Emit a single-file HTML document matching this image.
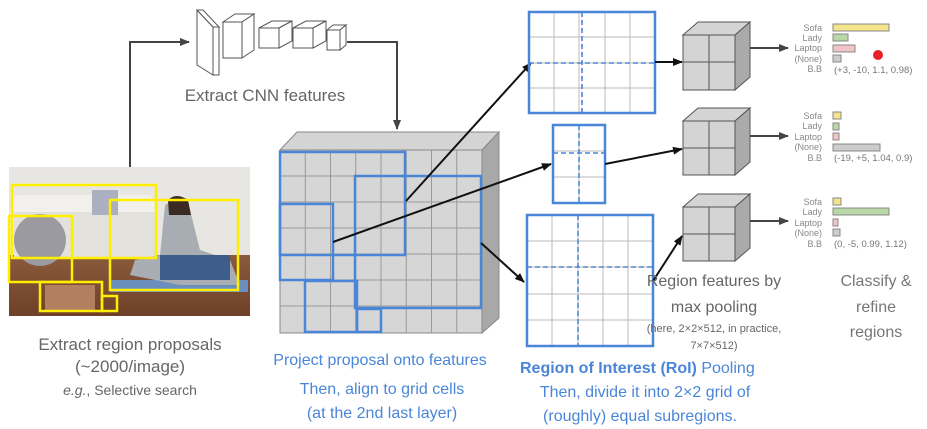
<!DOCTYPE html>
<html><head><meta charset="utf-8"><style>
html,body{margin:0;padding:0;background:#fff;}
svg{display:block;font-family:"Liberation Sans",sans-serif;}
</style></head><body>
<svg width="927" height="429" viewBox="0 0 927 429" xmlns="http://www.w3.org/2000/svg">
<defs>
<marker id="ah" markerWidth="10" markerHeight="8" refX="9" refY="4" orient="auto" markerUnits="userSpaceOnUse"><path d="M0,0 L10,4 L0,8 z" fill="#111"/></marker>
<marker id="ag" markerWidth="10" markerHeight="8" refX="9" refY="4" orient="auto" markerUnits="userSpaceOnUse"><path d="M0,0 L10,4 L0,8 z" fill="#444"/></marker>
<linearGradient id="floor" x1="0" y1="0" x2="0" y2="1"><stop offset="0" stop-color="#8a5a3c"/><stop offset="1" stop-color="#6e4128"/></linearGradient>
</defs>

<!-- connectors to CNN -->
<polyline points="130,167 130,42 189,42" fill="none" stroke="#444" stroke-width="2" marker-end="url(#ag)"/>
<polyline points="347,42 397,42 397,129" fill="none" stroke="#444" stroke-width="2" marker-end="url(#ag)"/>

<!-- CNN layers -->
<g fill="#fff" stroke="#555" stroke-width="1">
<polygon points="197,10 213,27 213,75 197,65"/>
<polygon points="197,10 203,10 219,27 213,27"/>
<rect x="213" y="27" width="6" height="48"/>
<polygon points="223,22 235,14 254,14 242,22"/><polygon points="242,22 254,14 254,50 242,58"/><rect x="223" y="22" width="19" height="36"/>
<polygon points="259,28 272,21 292,21 279,28"/><polygon points="279,28 292,21 292,41 279,48"/><rect x="259" y="28" width="20" height="20"/>
<polygon points="293,28 306,21 326,21 313,28"/><polygon points="313,28 326,21 326,41 313,48"/><rect x="293" y="28" width="20" height="20"/>
<polygon points="327,30 333,25 346,25 340,30"/><polygon points="340,30 346,25 346,45 340,50"/><rect x="327" y="30" width="13" height="20"/>
</g>
<text x="265" y="101" font-size="17" fill="#666" text-anchor="middle">Extract CNN features</text>

<!-- photo -->
<rect x="9" y="167" width="241" height="149" fill="#e8e6e2"/>
<rect x="9" y="255" width="241" height="61" fill="url(#floor)"/>
<rect x="12" y="195" width="143" height="60" rx="8" fill="#f1f0ec"/>
<rect x="14" y="212" width="141" height="45" fill="#e2e1dc"/>
<rect x="92" y="190" width="26" height="25" fill="#aab0c0"/>
<circle cx="40" cy="240" r="26" fill="#9a9aa0"/>
<rect x="110" y="280" width="138" height="12" fill="#6a8fbf"/>
<path d="M165,205 q15,-10 25,5 l10,40 l30,10 l10,25 l-60,0 l-50,-10 l5,-15 l25,-5 z" fill="#a8adb3"/>
<rect x="160" y="255" width="70" height="25" fill="#3e5e8a"/>
<path d="M168,200 q8,-8 20,0 l3,15 l-22,0 z" fill="#3a2a22"/>
<rect x="45" y="285" width="50" height="25" fill="#b08060"/>
<g fill="none" stroke="#ffee00" stroke-width="2.5">
<rect x="12" y="185" width="144" height="73"/>
<rect x="110" y="200" width="128" height="90"/>
<rect x="9" y="216" width="63" height="66"/>
<rect x="40" y="282" width="62" height="29"/>
<rect x="102" y="296" width="15" height="15"/>
</g>
<text x="130" y="350" font-size="17" fill="#666" text-anchor="middle">Extract region proposals</text>
<text x="130" y="372" font-size="17" fill="#666" text-anchor="middle">(~2000/image)</text>
<text x="130" y="395" font-size="14" fill="#666" text-anchor="middle"><tspan font-style="italic">e.g.</tspan>, Selective search</text>

<!-- feature map -->
<polygon points="280,150 297,132 499,132 482,150" fill="#d4d4d4" stroke="#888"/>
<polygon points="482,150 499,132 499,318 482,333" fill="#a8a8a8" stroke="#888"/>
<rect x="280" y="150" width="202" height="183" fill="#d6d6d6" stroke="#888"/>
<g stroke="#999" stroke-width="1">
<line x1="305.25" y1="150" x2="305.25" y2="333"/><line x1="330.5" y1="150" x2="330.5" y2="333"/><line x1="355.75" y1="150" x2="355.75" y2="333"/><line x1="381" y1="150" x2="381" y2="333"/><line x1="406.25" y1="150" x2="406.25" y2="333"/><line x1="431.5" y1="150" x2="431.5" y2="333"/><line x1="456.75" y1="150" x2="456.75" y2="333"/>
<line x1="280" y1="176" x2="482" y2="176"/><line x1="280" y1="202" x2="482" y2="202"/><line x1="280" y1="228" x2="482" y2="228"/><line x1="280" y1="254" x2="482" y2="254"/><line x1="280" y1="280" x2="482" y2="280"/><line x1="280" y1="306" x2="482" y2="306"/>
</g>
<g fill="none" stroke="#4a86d8" stroke-width="2.5">
<rect x="280" y="152" width="125" height="103"/>
<rect x="355" y="176" width="126" height="132"/>
<rect x="280" y="204" width="53" height="76"/>
<rect x="305" y="281" width="52" height="51"/>
<rect x="357" y="309" width="24" height="23"/>
</g>
<line x1="406" y1="201" x2="531" y2="63" stroke="#111" stroke-width="2" marker-end="url(#ah)"/>
<line x1="333" y1="242" x2="551" y2="164" stroke="#111" stroke-width="2" marker-end="url(#ah)"/>
<line x1="481" y1="243" x2="524" y2="282" stroke="#111" stroke-width="2" marker-end="url(#ah)"/>
<text x="380" y="365" font-size="16" fill="#4a86d8" text-anchor="middle">Project proposal onto features</text>
<text x="382" y="394" font-size="16" fill="#4a86d8" text-anchor="middle">Then, align to grid cells</text>
<text x="382" y="418" font-size="16" fill="#4a86d8" text-anchor="middle">(at the 2nd last layer)</text>

<!-- ROI boxes -->
<g stroke="#bbb" stroke-width="1">
<line x1="554" y1="12" x2="554" y2="113"/><line x1="579" y1="12" x2="579" y2="113"/><line x1="605" y1="12" x2="605" y2="113"/><line x1="630" y1="12" x2="630" y2="113"/>
<line x1="529" y1="37" x2="655" y2="37"/><line x1="529" y1="63" x2="655" y2="63"/><line x1="529" y1="88" x2="655" y2="88"/>
<line x1="579" y1="125" x2="579" y2="203"/>
<line x1="553" y1="151" x2="605" y2="151"/><line x1="553" y1="177" x2="605" y2="177"/>
<line x1="552" y1="215" x2="552" y2="346"/><line x1="578" y1="215" x2="578" y2="346"/><line x1="603" y1="215" x2="603" y2="346"/><line x1="628" y1="215" x2="628" y2="346"/>
<line x1="527" y1="241" x2="653" y2="241"/><line x1="527" y1="267" x2="653" y2="267"/><line x1="527" y1="294" x2="653" y2="294"/><line x1="527" y1="320" x2="653" y2="320"/>
</g>
<g stroke="#4a86d8" stroke-width="1.6" stroke-dasharray="5,3">
<line x1="582" y1="12" x2="582" y2="113"/><line x1="529" y1="63" x2="655" y2="63"/>
<line x1="579" y1="125" x2="579" y2="203"/><line x1="553" y1="153" x2="605" y2="153"/>
<line x1="578" y1="215" x2="578" y2="346"/><line x1="527" y1="267" x2="653" y2="267"/>
</g>
<g fill="none" stroke="#4a86d8" stroke-width="2.5">
<rect x="529" y="12" width="126" height="101"/>
<rect x="553" y="125" width="52" height="78"/>
<rect x="527" y="215" width="126" height="131"/>
</g>
<line x1="655" y1="62" x2="682" y2="62" stroke="#111" stroke-width="2" marker-end="url(#ah)"/>
<line x1="605" y1="164" x2="682" y2="149" stroke="#111" stroke-width="2" marker-end="url(#ah)"/>
<line x1="653" y1="281" x2="682" y2="236" stroke="#111" stroke-width="2" marker-end="url(#ah)"/>
<text x="520" y="373" font-size="16" fill="#4a86d8"><tspan font-weight="bold">Region of Interest (RoI)</tspan> Pooling</text>
<text x="645" y="397" font-size="16" fill="#4a86d8" text-anchor="middle">Then, divide it into 2×2 grid of</text>
<text x="640" y="421" font-size="16" fill="#4a86d8" text-anchor="middle">(roughly) equal subregions.</text>

<!-- cubes -->
<g fill="#d4d4d4" stroke="#555" stroke-width="1">
<g>
<polygon points="683,35 698,22 750,22 735,35"/><polygon points="735,35 750,22 750,77 735,90" fill="#aaa"/><rect x="683" y="35" width="52" height="55"/>
<line x1="709" y1="35" x2="709" y2="90"/><line x1="683" y1="62" x2="735" y2="62"/>
</g>
<g>
<polygon points="683,121 698,108 750,108 735,121"/><polygon points="735,121 750,108 750,162 735,175" fill="#aaa"/><rect x="683" y="121" width="52" height="54"/>
<line x1="709" y1="121" x2="709" y2="175"/><line x1="683" y1="148" x2="735" y2="148"/>
</g>
<g>
<polygon points="683,207 698,194 750,194 735,207"/><polygon points="735,207 750,194 750,248 735,261" fill="#aaa"/><rect x="683" y="207" width="52" height="54"/>
<line x1="709" y1="207" x2="709" y2="261"/><line x1="683" y1="234" x2="735" y2="234"/>
</g>
</g>
<line x1="750" y1="48" x2="788" y2="48" stroke="#444" stroke-width="2" marker-end="url(#ag)"/>
<line x1="750" y1="136" x2="788" y2="136" stroke="#444" stroke-width="2" marker-end="url(#ag)"/>
<line x1="750" y1="221" x2="788" y2="221" stroke="#444" stroke-width="2" marker-end="url(#ag)"/>
<text x="714" y="286" font-size="16" fill="#666" text-anchor="middle">Region features by</text>
<text x="714" y="312" font-size="16" fill="#666" text-anchor="middle">max pooling</text>
<text x="714" y="332" font-size="11" fill="#666" text-anchor="middle">(here, 2×2×512, in practice,</text>
<text x="714" y="349" font-size="11" fill="#666" text-anchor="middle">7×7×512)</text>
<text x="876" y="286" font-size="16" fill="#777" text-anchor="middle">Classify &amp;</text>
<text x="876" y="312" font-size="16" fill="#777" text-anchor="middle">refine</text>
<text x="876" y="337" font-size="16" fill="#777" text-anchor="middle">regions</text>

<!-- bars -->
<g font-size="9" fill="#888" text-anchor="end">
<text x="822" y="31">Sofa</text><text x="822" y="41">Lady</text><text x="822" y="51">Laptop</text><text x="822" y="62">(None)</text><text x="822" y="72">B.B</text>
<text x="822" y="119">Sofa</text><text x="822" y="129">Lady</text><text x="822" y="140">Laptop</text><text x="822" y="150">(None)</text><text x="822" y="161">B.B</text>
<text x="822" y="205">Sofa</text><text x="822" y="215">Lady</text><text x="822" y="226">Laptop</text><text x="822" y="236">(None)</text><text x="822" y="247">B.B</text>
</g>
<g stroke="#888" stroke-width="1">
<rect x="833" y="24" width="56" height="7" fill="#f3e58c"/><rect x="833" y="34" width="15" height="7" fill="#b9d8a5"/><rect x="833" y="45" width="22" height="7" fill="#f2c4c8"/><rect x="833" y="55" width="8" height="7" fill="#ccc"/>
<rect x="833" y="112" width="8" height="7" fill="#f3e58c"/><rect x="833" y="123" width="6" height="7" fill="#b9d8a5"/><rect x="833" y="133" width="6" height="7" fill="#f2c4c8"/><rect x="833" y="144" width="47" height="7" fill="#ccc"/>
<rect x="833" y="198" width="8" height="7" fill="#f3e58c"/><rect x="833" y="208" width="56" height="7" fill="#b9d8a5"/><rect x="833" y="219" width="5" height="7" fill="#f2c4c8"/><rect x="833" y="229" width="7" height="7" fill="#ccc"/>
</g>
<circle cx="878" cy="55" r="5" fill="#e8202a"/>
<g font-size="9.5" fill="#777">
<text x="834" y="73">(+3, -10, 1.1, 0.98)</text>
<text x="834" y="161">(-19, +5, 1.04, 0.9)</text>
<text x="834" y="247">(0, -5, 0.99, 1.12)</text>
</g>
</svg>
</body></html>
